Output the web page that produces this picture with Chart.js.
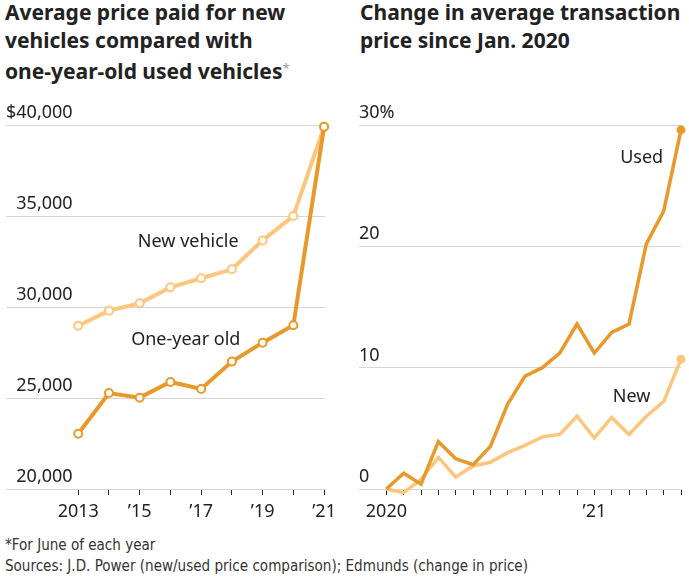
<!DOCTYPE html>
<html>
<head>
<meta charset="utf-8">
<script src="https://cdn.jsdelivr.net/npm/chart.js@4.4.0/dist/chart.umd.min.js"></script>
<style>
body { margin: 0; width: 689px; height: 577px; background: #fff; position: relative; overflow: hidden; font-family: "Noto Sans", sans-serif; color: #222; }
.title { position: absolute; top: -2px; font-weight: bold; font-size: 21px; line-height: 28px; white-space: nowrap; }
.title sup { font-weight: normal; font-size: 13px; color: #999; vertical-align: 6px; }
canvas { position: absolute; top: 90px; }
.foot { position: absolute; left: 5px; top: 534px; font-family: "Liberation Sans Narrow", "DejaVu Sans Condensed", sans-serif; font-size: 16px; line-height: 21px; color: #333; white-space: nowrap; transform: scaleX(0.94); transform-origin: left top; }
</style>
</head>
<body>
<div class="title" style="left:5px">Average price paid for new<br>vehicles compared with<br>one-year-old used vehicles<sup>*</sup></div>
<div class="title" style="left:360px">Change in average transaction<br>price since Jan. 2020</div>
<canvas id="prices" width="345" height="430" style="left:0"></canvas>
<canvas id="change" width="344" height="430" style="left:345px"></canvas>
<div class="foot">*For June of each year<br>Sources: J.D. Power (new/used price comparison); Edmunds (change in price)</div>
<script>
// left chart: average price, June of each year
const years = [2013, 2014, 2015, 2016, 2017, 2018, 2019, 2020, 2021];
const yearLabels = ['2013', '', '\u201915', '', '\u201917', '', '\u201919', '', '\u201921'];
const newVehicle = [28970, 29800, 30200, 31080, 31580, 32070, 33660, 35000, 39900];
const oneYearOld = [23040, 25270, 25020, 25880, 25500, 27000, 28040, 29000, 39900];
const priceTicks = [20000, 25000, 30000, 35000, 40000];
const priceTickLabels = ['20,000', '25,000', '30,000', '35,000', '$40,000'];

// right chart: monthly % change since Jan. 2020
const months = ['Jan 2020', 'Feb', 'Mar', 'Apr', 'May', 'Jun', 'Jul', 'Aug', 'Sep', 'Oct', 'Nov', 'Dec',
    'Jan 2021', 'Feb', 'Mar', 'Apr', 'May', 'Jun'];
const monthLabels = ['2020', '', '', '', '', '', '', '', '', '', '', '', '\u201921', '', '', '', '', ''];
const usedChange = [0, 1.3, 0.4, 3.9, 2.5, 2.0, 3.5, 7.0, 9.3, 10.0, 11.2, 13.6, 11.2, 12.9, 13.6, 20.2, 22.9, 29.6];
const newChange = [0, -0.3, 0.8, 2.6, 1.0, 1.9, 2.2, 3.0, 3.6, 4.3, 4.5, 6.0, 4.2, 5.9, 4.5, 6.0, 7.2, 10.7];
const changeTicks = [0, 10, 20, 30];
const changeTickLabels = ['0', '10', '20', '30%'];

const DARK = '#e9982a';
const LIGHT = '#fec67c';
const FONT = '"Noto Sans", sans-serif';

// writes the line labels at data positions
const notesPlugin = {
    id: 'notes',
    afterDatasetsDraw(chart, args, opts) {
        const ctx = chart.ctx;
        const xs = chart.scales.x, ys = chart.scales.y;
        ctx.save();
        ctx.font = '18px ' + FONT;
        ctx.fillStyle = '#222';
        ctx.textAlign = 'center';
        ctx.textBaseline = 'middle';
        opts.items.forEach(function (n) {
            ctx.fillText(n.text, xs.getPixelForValue(n.x), ys.getPixelForValue(n.y));
        });
        ctx.restore();
    }
};

function fixedTicks(values) {
    return function (scale) {
        scale.ticks = values.map(v => ({ value: v }));
    };
}

function xAxis(min, max, values, labels) {
    return {
        type: 'linear', min: min, max: max,
        afterBuildTicks: fixedTicks(values),
        afterFit: function (s) { s.height = 31; },
        grid: { drawOnChartArea: false, drawTicks: true, tickLength: 6, color: '#222' },
        border: { display: true, color: '#d6d6d6' },
        ticks: {
            autoSkip: false, maxRotation: 0, padding: 6, color: '#222',
            font: { family: FONT, size: 18 },
            callback: (v) => labels[values.indexOf(v)]
        }
    };
}

function yAxis(min, max, values, labels, align) {
    return {
        min: min, max: max,
        afterBuildTicks: fixedTicks(values),
        grid: { color: '#d6d6d6', drawTicks: false },
        border: { display: false },
        ticks: {
            mirror: true, crossAlign: align, padding: 0, labelOffset: -12, color: '#222',
            font: { family: FONT, size: 18 },
            callback: (v) => labels[values.indexOf(v)]
        }
    };
}

new Chart(document.getElementById('prices'), {
    type: 'line',
    data: {
        datasets: [{
            label: 'One-year old',
            data: years.map((y, i) => ({ x: y, y: oneYearOld[i] })),
            borderColor: DARK, borderWidth: 4,
            pointRadius: 4, pointBorderWidth: 2, pointBackgroundColor: '#fff', pointBorderColor: DARK,
            clip: false
        }, {
            label: 'New vehicle',
            data: years.map((y, i) => ({ x: y, y: newVehicle[i] })),
            borderColor: LIGHT, borderWidth: 4,
            pointRadius: 4, pointBorderWidth: 2, pointBackgroundColor: '#fff', pointBorderColor: LIGHT,
            clip: false
        }]
    },
    plugins: [notesPlugin],
    options: {
        responsive: false, animation: false, events: [],
        layout: { padding: { left: 4, right: 20, top: 35, bottom: 0 } },
        scales: {
            x: xAxis(2010.65, 2021.03, years, yearLabels),
            y: yAxis(20000, 40000, priceTicks, priceTickLabels, 'far')
        },
        plugins: {
            legend: { display: false },
            tooltip: { enabled: false },
            notes: { items: [
                { text: 'New vehicle', x: 2016.58, y: 33590 },
                { text: 'One-year old', x: 2016.5, y: 28190 }
            ] }
        }
    }
});

const last = months.length - 1;
new Chart(document.getElementById('change'), {
    type: 'line',
    data: {
        datasets: [{
            label: 'Used',
            data: usedChange.map((v, i) => ({ x: i, y: v })),
            borderColor: DARK, borderWidth: 3.5, backgroundColor: DARK,
            pointRadius: ctx => ctx.dataIndex === last ? 4.5 : 0, pointBorderWidth: 0,
            clip: false
        }, {
            label: 'New',
            data: newChange.map((v, i) => ({ x: i, y: v })),
            borderColor: LIGHT, borderWidth: 3.5, backgroundColor: LIGHT,
            pointRadius: ctx => ctx.dataIndex === last ? 4.5 : 0, pointBorderWidth: 0,
            clip: false
        }]
    },
    plugins: [notesPlugin],
    options: {
        responsive: false, animation: false, events: [],
        layout: { padding: { left: 14, right: 8, top: 35, bottom: 0 } },
        scales: {
            x: xAxis(-1.58, 17, months.map((m, i) => i), monthLabels),
            y: yAxis(0, 30, changeTicks, changeTickLabels, 'near')
        },
        plugins: {
            legend: { display: false },
            tooltip: { enabled: false },
            notes: { items: [
                { text: 'Used', x: 14.73, y: 27.3 },
                { text: 'New', x: 14.15, y: 7.6 }
            ] }
        }
    }
});
</script>
</body>
</html>
